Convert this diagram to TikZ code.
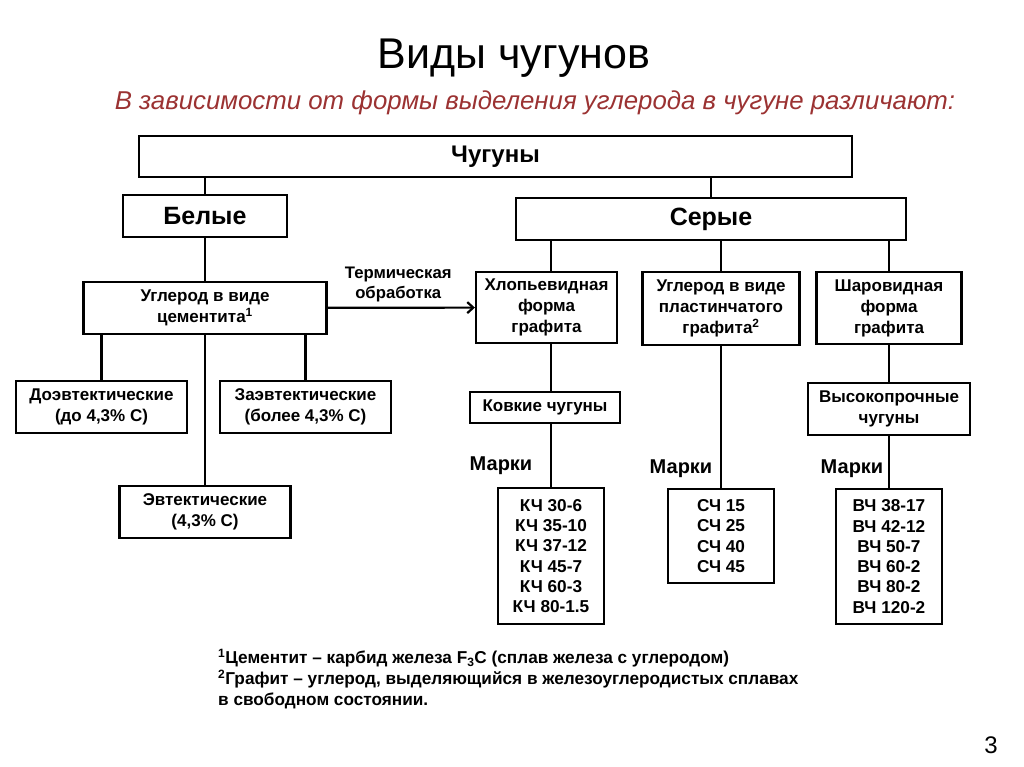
\documentclass[tikz,border=0pt]{standalone}
\usepackage{fontspec}
\setmainfont{Liberation Sans}
\usetikzlibrary{positioning,arrows.meta}

\definecolor{subred}{RGB}{155,50,50}

\tikzset{
  box/.style={draw, line width=2.2pt, align=center, inner sep=2pt,
    font=\bfseries\fontsize{17}{21}\selectfont},
  bigbox/.style={box, font=\bfseries\fontsize{25}{28}\selectfont},
  marks/.style={box, anchor=north, font=\bfseries\fontsize{17.2}{20.3}\selectfont},
  marklabel/.style={font=\bfseries\fontsize{20}{24}\selectfont},
  link/.style={line width=2.2pt}
}

\begin{document}
\begin{tikzpicture}[x=1pt, y=-1pt]
  \useasboundingbox (0,0) rectangle (1024,767);
  % heading
  \node (title) at (514,58) {\fontsize{43}{50}\selectfont Виды чугунов};
  \node (sub) at (535,103) {\color{subred}\itshape\fontsize{25.8}{30}\selectfont
    В зависимости от формы выделения углерода в чугуне различают:};

  % top levels
  \node [box, minimum width=713, minimum height=41,
    font=\bfseries\fontsize{24}{28}\selectfont] (chug) at (495.5,156.5) {Чугуны};
  \node [bigbox, minimum width=164, minimum height=42] (bel) at (205,216) {Белые};
  \node [bigbox, minimum width=390, minimum height=42] (ser) at (711,219) {Серые};

  % white cast iron
  \node [box, minimum width=243, minimum height=52] (cem) at (205,308)
    {Углерод в виде\\цементита\textsuperscript{1}};
  \node [box, minimum width=171, minimum height=52] (dozv) at (101.5,407)
    {Доэвтектические\\(до 4,3\%  С)};
  \node [box, minimum width=171, minimum height=52] (zazv) at (305.5,407)
    {Заэвтектические\\(более 4,3\%  С)};
  \node [box, minimum width=171, minimum height=52] (evt) at (205,512)
    {Эвтектические\\(4,3\%  С)};

  % grey cast iron
  \node [box, minimum width=141, minimum height=71] (hlop) at (546.5,307.5)
    {Хлопьевидная\\форма\\графита};
  \node [box, minimum width=157, minimum height=73] (plast) at (721,308.5)
    {Углерод в виде\\пластинчатого\\графита\textsuperscript{2}};
  \node [box, minimum width=145, minimum height=72] (shar) at (889,308)
    {Шаровидная\\форма\\графита};
  \node [box, minimum width=150, minimum height=31] (kovk) at (545,407.5) {Ковкие чугуны};
  \node [box, minimum width=162, minimum height=52] (vysok) at (889,409)
    {Высокопрочные\\чугуны};

  % grades
  \node [marks, minimum width=106, minimum height=136] (kch) at (551,487)
    {КЧ 30-6\\КЧ 35-10\\КЧ 37-12\\КЧ 45-7\\КЧ 60-3\\КЧ 80-1.5};
  \node [marks, minimum width=106, minimum height=94] (sch) at (721,488)
    {СЧ 15\\СЧ 25\\СЧ 40\\СЧ 45};
  \node [marks, minimum width=106, minimum height=135] (vch) at (889,488)
    {ВЧ 38-17\\ВЧ 42-12\\ВЧ 50-7\\ВЧ 60-2\\ВЧ 80-2\\ВЧ 120-2};
  \node [marklabel] (mk1) at (501,466) {Марки};
  \node [marklabel] (mk2) at (681,469) {Марки};
  \node [marklabel] (mk3) at (852,469) {Марки};

  % connectors
  \draw [link] (bel.north) -- (bel.north |- chug.south);
  \draw [link] (ser.north) -- (ser.north |- chug.south);
  \draw [link] (bel) -- (cem);
  \draw [link] (dozv.north) -- (dozv.north |- cem.south);
  \draw [link] (zazv.north) -- (zazv.north |- cem.south);
  \draw [link] (evt.north) -- (evt.north |- cem.south);
  \draw [link] (hlop.north -| kch) -- (kch |- ser.south);
  \draw [link] (plast.north) -- (plast.north |- ser.south);
  \draw [link] (shar.north) -- (shar.north |- ser.south);
  \draw [link] (kovk.north -| kch) -- (kch |- hlop.south);
  \draw [link] (kch.north) -- (kch.north |- kovk.south);
  \draw [link] (plast) -- (sch);
  \draw [link] (shar) -- (vysok);
  \draw [link] (vysok) -- (vch);
  \draw [link, -{Straight Barb[length=6pt, width=11pt]}] (cem) -- (hlop)
    node [midway, above=1pt, xshift=-3pt, align=center,
      font=\bfseries\fontsize{16.7}{20}\selectfont] (term) {Термическая\\обработка};

  % footnotes
  \node [anchor=north west, align=left, inner sep=0pt,
    font=\bfseries\fontsize{17.2}{21}\selectfont] (notes) at (218,649)
    {\textsuperscript{1}Цементит – карбид железа F\textsubscript{3}C (сплав железа с углеродом)\\
     \textsuperscript{2}Графит – углерод, выделяющийся в железоуглеродистых сплавах\\
     в свободном состоянии.};
  \node (page) at (991,745) {\fontsize{24}{28}\selectfont 3};
\end{tikzpicture}
\end{document}
